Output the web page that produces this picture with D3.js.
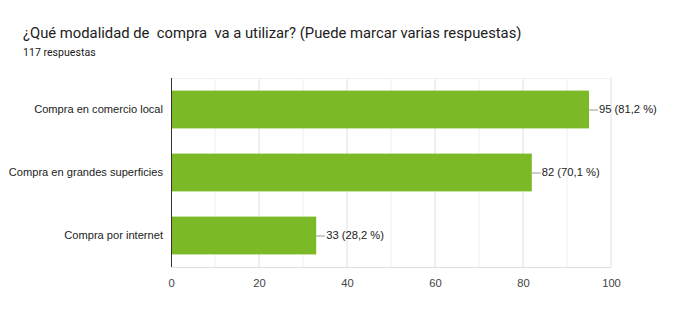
<!DOCTYPE html>
<html><head><meta charset="utf-8">
<script src="https://cdn.jsdelivr.net/npm/d3@7"></script>
<style>body{margin:0;background:#fff;}</style>
</head><body>
<script>
const title = "¿Qué modalidad de  compra  va a utilizar? (Puede marcar varias respuestas)";
const subtitle = "117 respuestas";
const categories = ["Compra en comercio local", "Compra en grandes superficies", "Compra por internet"];
const values = [95, 82, 33];
const labels = ["95 (81,2 %)", "82 (70,1 %)", "33 (28,2 %)"];
const ticks = [0, 20, 40, 60, 80, 100];
const minorTicks = [10, 30, 50, 70, 90];

const W = 679, H = 323;
const svg = d3.select("body").append("svg").attr("width", W).attr("height", H);
svg.append("rect").attr("width", W).attr("height", H).attr("fill", "#fff");

svg.append("text").attr("x", 23).attr("y", 38).attr("font-family", "Roboto").attr("font-size", 14.8)
  .attr("fill", "#212121").style("white-space", "pre").text(title);
svg.append("text").attr("x", 23).attr("y", 56).attr("font-family", "Roboto").attr("font-size", 10.6)
  .attr("fill", "#212121").text(subtitle);

const x = d3.scaleLinear().domain([0, 100]).range([171, 611]);
const y = d3.scaleBand().domain(categories).range([78, 267]).paddingInner(0.4).paddingOuter(0.2);

const g = svg.append("g");
g.selectAll("line.minor").data(minorTicks).join("line")
  .attr("x1", d => x(d)).attr("x2", d => x(d)).attr("y1", 78).attr("y2", 267)
  .attr("stroke", "#f0f0f0").attr("stroke-width", 1);
g.selectAll("line.major").data(ticks.slice(1)).join("line")
  .attr("x1", d => x(d)).attr("x2", d => x(d)).attr("y1", 78).attr("y2", 267)
  .attr("stroke", "#e0e0e0").attr("stroke-width", 1);
g.append("line").attr("x1", x(0)).attr("x2", x(100)).attr("y1", 78.5).attr("y2", 78.5).attr("stroke", "#f0f0f0");
g.append("line").attr("x1", x(0)).attr("x2", x(100)).attr("y1", 267.5).attr("y2", 267.5).attr("stroke", "#e0e0e0");

g.selectAll("rect.bar").data(values).join("rect")
  .attr("x", x(0)).attr("y", (d, i) => y(categories[i]))
  .attr("width", d => x(d) - x(0)).attr("height", y.bandwidth())
  .attr("fill", "#7cb927");

g.selectAll("line.lead").data(values).join("line")
  .attr("x1", d => x(d)).attr("x2", d => x(d) + 9)
  .attr("y1", (d, i) => y(categories[i]) + y.bandwidth() / 2 + 0.5)
  .attr("y2", (d, i) => y(categories[i]) + y.bandwidth() / 2 + 0.5)
  .attr("stroke", "#999").attr("stroke-width", 1);
g.selectAll("text.val").data(values).join("text")
  .attr("x", d => x(d) + 10).attr("y", (d, i) => y(categories[i]) + y.bandwidth() / 2)
  .attr("dy", "0.35em").attr("font-family", "Liberation Sans, Arial").attr("font-size", 11.2)
  .attr("fill", "#222").text((d, i) => labels[i]);

g.selectAll("text.cat").data(categories).join("text")
  .attr("x", 163).attr("y", d => y(d) + y.bandwidth() / 2).attr("dy", "0.35em")
  .attr("text-anchor", "end").attr("font-family", "Liberation Sans, Arial").attr("font-size", 11.1)
  .attr("fill", "#222").text(d => d);

g.append("line").attr("x1", x(0) + 0.5).attr("x2", x(0) + 0.5).attr("y1", 78).attr("y2", 267)
  .attr("stroke", "#333").attr("stroke-width", 1);

const xAxis = d3.axisBottom(x).tickValues(ticks).tickSize(0).tickPadding(8);
const ax = svg.append("g").attr("transform", "translate(0,271)").call(xAxis);
ax.select(".domain").remove();
ax.selectAll("text").attr("font-family", "Liberation Sans, Arial").attr("font-size", 11.2).attr("fill", "#444");
</script>
</body></html>
